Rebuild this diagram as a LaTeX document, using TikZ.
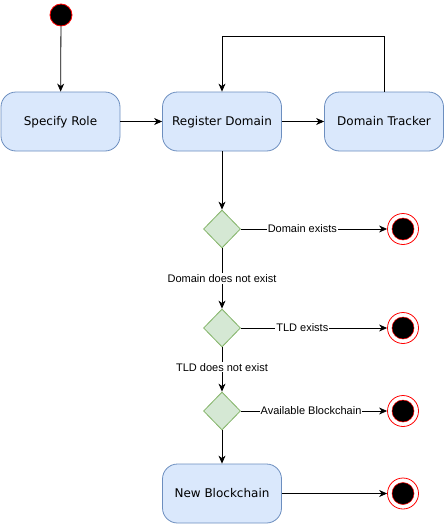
\documentclass[tikz,border=0pt]{standalone}
\usepackage{fontspec}
\setmainfont{DejaVu Sans}
\newfontfamily\lblfont{Liberation Sans}
\usetikzlibrary{arrows.meta,shapes.geometric}
\definecolor{boxfill}{HTML}{DAE8FC}
\definecolor{boxdraw}{HTML}{6C8EBF}
\definecolor{decfill}{HTML}{D5E8D4}
\definecolor{decdraw}{HTML}{82B366}
\definecolor{endred}{HTML}{FF0000}
\tikzset{
  act/.style={draw=boxdraw, fill=boxfill, rounded corners=15pt, minimum width=119pt, minimum height=59pt, inner sep=0pt, font=\fontsize{12}{14}\selectfont, text height=8.5pt, text depth=0pt, line width=0.8pt},
  dec/.style={draw=decdraw, fill=decfill, diamond, minimum width=37pt, minimum height=38pt, inner sep=0pt, aspect=1, line width=0.8pt},
  startst/.style={circle, draw=endred, fill=black, minimum size=22pt, inner sep=0pt, line width=0.8pt},
  endst/.style={circle, draw=endred, fill=white, minimum size=31pt, inner sep=0pt, line width=0.8pt},
  endin/.style={circle, draw=endred, fill=black, minimum size=22pt, inner sep=0pt, line width=0.5pt},
  conn/.style={-{Stealth[length=8pt,width=7pt,inset=2.5pt]}, line width=0.8pt},
  lbl/.style={fill=white, inner sep=1pt, font=\lblfont\fontsize{11}{13}\selectfont},
}
\begin{document}
\begin{tikzpicture}[x=1pt,y=-1pt]
\useasboundingbox (0,0) rectangle (445,525);
\node[startst] (start) at (61,15) {};
\node[act] (role) at (60.5,121.5) {Specify Role};
\node[act] (reg) at (222,121.5) {Register Domain};
\node[act] (track) at (384,121.5) {Domain Tracker};
\node[dec] (d1) at (222,229) {};
\node[dec] (d2) at (222,328) {};
\node[dec] (d3) at (222,411) {};
\node[act] (nb) at (222,493.5) {New Blockchain};
\foreach \n/\y in {e1/229,e2/328,e3/411,e4/493.5}{
  \node[endst] (\n) at (403,\y) {};
  \node[endin] at (403,\y) {};
}
\coordinate (lt) at (384,36);
\coordinate (lr) at (222,36);
\draw[conn] (start) -- (role);
\draw[conn] (role) -- (reg);
\draw[conn] (reg) -- (track);
\draw[conn] (track.north) -- (lt) -- (lr) -- (reg.north);
\draw[conn] (reg) -- (d1);
\draw[conn] (d1) -- node[lbl, pos=0.42]{Domain exists} (e1);
\draw[conn] (d1) -- node[lbl, pos=0.5]{Domain does not exist} (d2);
\draw[conn] (d2) -- node[lbl, pos=0.42]{TLD exists} (e2);
\draw[conn] (d2) -- node[lbl, pos=0.45]{TLD does not exist} (d3);
\draw[conn] (d3) -- node[lbl, pos=0.48]{Available Blockchain} (e3);
\draw[conn] (d3) -- (nb);
\draw[conn] (nb) -- (e4);
\end{tikzpicture}
\end{document}
